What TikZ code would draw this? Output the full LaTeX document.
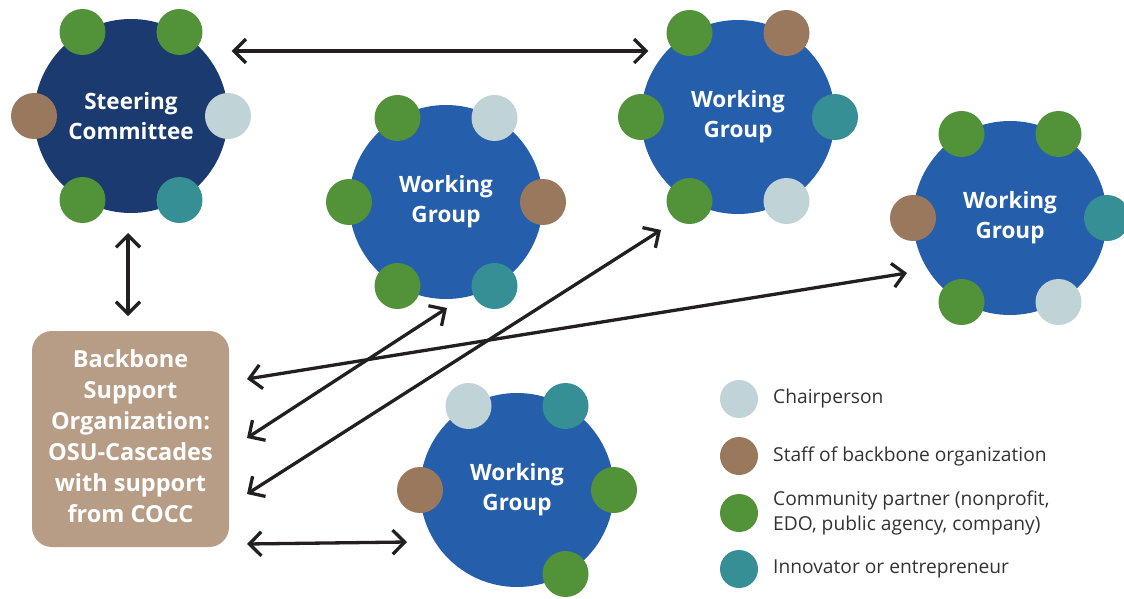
\documentclass[tikz,border=0pt]{standalone}
\usepackage{fontspec}
\setmainfont{Open Sans}
\usepackage{tikz}
\usetikzlibrary{arrows.meta}

\definecolor{navy}{HTML}{1B3A70}
\definecolor{wgblue}{HTML}{255EAB}
\definecolor{partner}{HTML}{529239}
\definecolor{staff}{HTML}{9A785D}
\definecolor{chair}{HTML}{C0D4D8}
\definecolor{innov}{HTML}{358F95}
\definecolor{tan}{HTML}{B79D86}
\definecolor{ink}{HTML}{231F20}
\definecolor{keygray}{HTML}{333333}

\begin{document}
\begin{tikzpicture}[x=1pt,y=-1pt,
  group/.style={circle,inner sep=0pt,outer sep=0pt,minimum size=194pt,text=white,align=center,
    font=\bfseries\fontsize{22.5}{30}\selectfont},
  member/.style={circle,inner sep=0pt,minimum size=46pt},
  backbone/.style={rectangle,rounded corners=20pt,fill=tan,inner sep=0pt,outer sep=0pt,
    minimum width=197pt,minimum height=216pt,text=white,align=center,
    font=\bfseries\fontsize{23.5}{31}\selectfont},
  key/.style={circle,inner sep=0pt,minimum size=38pt},
  keytext/.style={anchor=west,inner sep=0pt,align=left,text=keygray,
    font=\fontsize{19.2}{25}\selectfont},
  link/.style={draw=ink,line width=3.3pt,line cap=round,
    {Straight Barb[length=12pt,width=24pt]}-{Straight Barb[length=12pt,width=24pt]}}]
\useasboundingbox (0,0) rectangle (1124,599);

% steering committee
\node[group,fill=navy] (sc) at (131,116) {Steering\\Committee};
\node[member,fill=partner] (sc-1) at (sc.120) {};
\node[member,fill=partner] (sc-2) at (sc.60) {};
\node[member,fill=staff] (sc-3) at (sc.180) {};
\node[member,fill=chair] (sc-4) at (sc.0) {};
\node[member,fill=partner] (sc-5) at (sc.240) {};
\node[member,fill=innov] (sc-6) at (sc.300) {};

% working groups
\node[group,fill=wgblue] (wg1) at (446,202) {Working\\Group};
\node[member,fill=partner] (wg1-1) at (wg1.120) {};
\node[member,fill=chair] (wg1-2) at (wg1.60) {};
\node[member,fill=partner] (wg1-3) at (wg1.180) {};
\node[member,fill=staff] (wg1-4) at (wg1.0) {};
\node[member,fill=partner] (wg1-5) at (wg1.240) {};
\node[member,fill=innov] (wg1-6) at (wg1.300) {};

\node[group,fill=wgblue] (wg2) at (738,117) {Working\\Group};
\node[member,fill=partner] (wg2-1) at (wg2.120) {};
\node[member,fill=staff] (wg2-2) at (wg2.60) {};
\node[member,fill=partner] (wg2-3) at (wg2.180) {};
\node[member,fill=innov] (wg2-4) at (wg2.0) {};
\node[member,fill=partner] (wg2-5) at (wg2.240) {};
\node[member,fill=chair] (wg2-6) at (wg2.300) {};

\node[group,fill=wgblue] (wg3) at (1010,218) {Working\\Group};
\node[member,fill=partner] (wg3-1) at (wg3.120) {};
\node[member,fill=partner] (wg3-2) at (wg3.60) {};
\node[member,fill=staff] (wg3-3) at (wg3.180) {};
\node[member,fill=innov] (wg3-4) at (wg3.0) {};
\node[member,fill=partner] (wg3-5) at (wg3.240) {};
\node[member,fill=chair] (wg3-6) at (wg3.300) {};

\node[group,fill=wgblue] (wg4) at (517,490) {Working\\Group};
\node[member,fill=chair] (wg4-1) at (wg4.120) {};
\node[member,fill=innov] (wg4-2) at (wg4.60) {};
\node[member,fill=staff] (wg4-3) at (wg4.180) {};
\node[member,fill=partner] (wg4-4) at (wg4.0) {};
\node[member,fill=partner] (wg4-6) at (wg4.300) {};

% backbone organization
\node[backbone] (bb) at (130.5,439) {Backbone\\Support\\Organization:\\OSU-Cascades\\with support\\from COCC\vphantom{g}};

% links
\draw[link] ([xshift=32pt,yshift=-3.6pt]sc.north east) -- ([xshift=-21pt,yshift=-2.6pt]wg2.north west);
\draw[link] ([xshift=-3pt,yshift=-20pt]sc.south) -- ([xshift=-2.5pt,yshift=15pt]bb.north);
\draw[link] ([xshift=18pt,yshift=60pt]bb.east) -- ([shift={(-103pt,-55pt)}]wg3.center);
\draw[link] ([xshift=18pt,yshift=1pt]bb.east) -- ([xshift=1pt,yshift=-9pt]wg1.south);
\draw[link] ([xshift=18pt,yshift=-55pt]bb.east) -- ([shift={(-77pt,-16pt)}]wg2.south);
\draw[link] ([xshift=18pt,yshift=-105pt]bb.east) -- ([shift={(-13pt,-52pt)}]wg4.west);

% legend
\node[key,fill=chair] (k1) at (739,399) {};
\node[keytext] (t1) at (773,399) {Chairperson};
\node[key,fill=staff] (k2) at (739,456) {};
\node[keytext] (t2) at (773,456) {Staff of backbone organization};
\node[key,fill=partner] (k3) at (739,513) {};
\node[keytext] (t3) at (773,513) {Community partner (nonprofit,\\EDO, public agency, company)};
\node[key,fill=innov] (k4) at (739,569) {};
\node[keytext] (t4) at (773,569) {Innovator or entrepreneur};

\end{tikzpicture}
\end{document}
